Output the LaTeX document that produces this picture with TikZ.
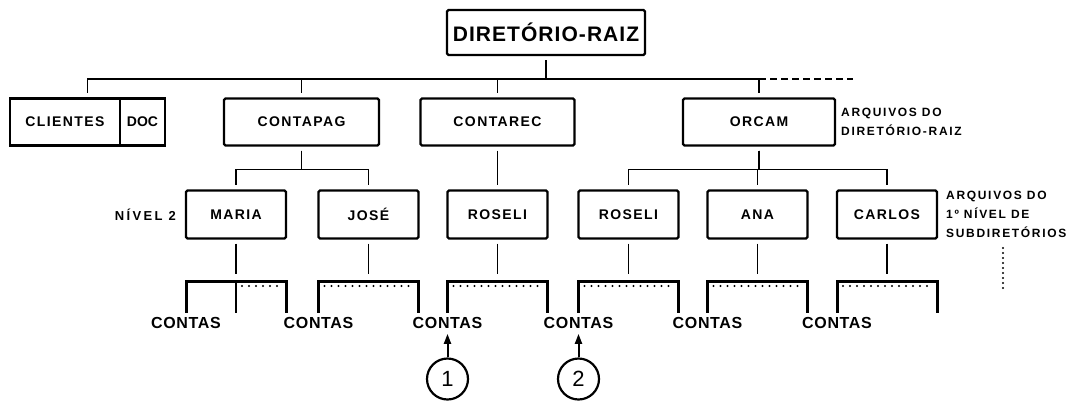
\documentclass[tikz,border=0pt]{standalone}
\usepackage{fontspec}
\setmainfont{Liberation Sans}
\newfontfamily\lettering{Liberation Sans}[LetterSpace=10]
\usepackage{tikz}
\usetikzlibrary{arrows.meta, positioning, calc}

\begin{document}
\begin{tikzpicture}[
    x=1pt, y=-1pt,
    dirbox/.style={rectangle, draw, line width=2.4pt, rounded corners=1.5pt, outer sep=0pt, inner sep=0pt, minimum width=100pt, minimum height=48pt, font=\lettering\bfseries\fontsize{14}{16}\selectfont},
    rootbox/.style={dirbox, minimum width=198pt, minimum height=45pt, font=\lettering\bfseries\fontsize{21}{24}\selectfont\addfontfeatures{LetterSpace=5}},
    note/.style={align=left, inner sep=0pt, font=\lettering\bfseries\fontsize{12}{19}\selectfont\addfontfeatures{LetterSpace=14}},
    contas/.style={inner sep=0pt, font=\lettering\bfseries\fontsize{16}{18}\selectfont\addfontfeatures{LetterSpace=4}},
    marker/.style={circle, draw, line width=2.2pt, minimum size=41pt, inner sep=0pt, font=\fontsize{22}{22}\selectfont},
    link/.style={line width=1.7pt, shorten <=5pt, shorten >=6pt},
    bracket/.style={line width=3pt},
    dotline/.style={line width=2.2pt, line cap=round, dash pattern=on 0pt off 7pt},
    pointer/.style={-{Triangle[length=10pt,width=7pt]}, line width=2pt}
]
\useasboundingbox (0,0) rectangle (1073,400);

% Diretorio-raiz
\node[rootbox] (raiz) at (546,32.5) {DIRETÓRIO-RAIZ};

% Arquivos do diretorio-raiz
\node[dirbox, rounded corners=0pt, minimum width=110pt, minimum height=47pt] (clientes) at (65,122) {CLIENTES};
\node[dirbox, rounded corners=0pt, minimum width=45pt, minimum height=47pt, anchor=west, font=\lettering\bfseries\fontsize{14}{16}\selectfont\addfontfeatures{LetterSpace=0}] (doc) at (clientes.east) {DOC};
\node[dirbox, minimum width=155pt, minimum height=47pt] (contapag) at (301.5,122) {CONTAPAG};
\node[dirbox, minimum width=154pt, minimum height=47pt] (contarec) at (497.5,122) {CONTAREC};
\node[dirbox, minimum width=152pt, minimum height=47pt] (orcam) at (759,122) {ORCAM};
\node[note, anchor=west] (notaraiz) at ([xshift=6pt]orcam.east) {ARQUIVOS DO\\DIRETÓRIO-RAIZ};

% 1o nivel de subdiretorios
\node[dirbox] (maria) at (236,214.5) {MARIA};
\node[dirbox] (jose) at (368.5,214.5) {JOSÉ};
\node[dirbox] (roseli) at (497.5,214.5) {ROSELI};
\node[dirbox] (roselib) at (628.5,214.5) {ROSELI};
\node[dirbox] (ana) at (757.5,214.5) {ANA};
\node[dirbox] (carlos) at (887,214.5) {CARLOS};
\node[note, left=10pt of maria, font=\lettering\bfseries\fontsize{13}{19}\selectfont\addfontfeatures{LetterSpace=18}] (nivel) {NÍVEL 2};
\node[note, anchor=west] (notasub) at ([xshift=9pt]carlos.east) {ARQUIVOS DO\\1º NÍVEL DE\\SUBDIRETÓRIOS};
\coordinate (maisniveis) at (1003,248);

% Ligacoes do diretorio-raiz
\draw[link] (raiz.south) -- ++(0,24) -| ($(clientes.north west)!0.5!(doc.north east)$);
\draw[link] (raiz.south) -- ++(0,24) -| (contapag.north);
\draw[link] (raiz.south) -- ++(0,24) -| (contarec.north);
\draw[link] (raiz.south) -- ++(0,24) -| (orcam.north);
\draw[line width=1.7pt, dash pattern=on 7pt off 4pt] (orcam.north |- 0,79) -- ++(94,0);

% Ligacoes do 1o nivel
\draw[link] (contapag.south) -- ++(0,24) -| (maria.north);
\draw[link] (contapag.south) -- ++(0,24) -| (jose.north);
\draw[link] (contarec.south) -- (roseli.north);
\draw[link] (orcam.south) -- ++(0,24) -| (roselib.north);
\draw[link] (orcam.south) -- ++(0,24) -| (ana.north);
\draw[link] (orcam.south) -- ++(0,24) -| (carlos.north);
\draw[dotline, dash pattern=on 0pt off 5pt] (maisniveis) -- ++(0,40);

% Arquivos do 2o nivel
\draw[link, shorten >=0pt] (maria.south) -- ++(0,35.5);
\draw[link, shorten >=0pt] (jose.south) -- ++(0,35.5);
\draw[link, shorten >=0pt] (roseli.south) -- ++(0,35.5);
\draw[link, shorten >=0pt] (roselib.south) -- ++(0,35.5);
\draw[link, shorten >=0pt] (ana.south) -- ++(0,35.5);
\draw[link, shorten >=0pt] (carlos.south) -- ++(0,35.5);

\draw[bracket] ([yshift=-74pt]maria.south west) |- ([yshift=-43pt]maria.south) -| ([yshift=-74pt]maria.south east);
\draw[bracket] ([yshift=-74pt]jose.south west) |- ([yshift=-43pt]jose.south) -| ([yshift=-74pt]jose.south east);
\draw[bracket] ([yshift=-74pt]roseli.south west) |- ([yshift=-43pt]roseli.south) -| ([yshift=-74pt]roseli.south east);
\draw[bracket] ([yshift=-74pt]roselib.south west) |- ([yshift=-43pt]roselib.south) -| ([yshift=-74pt]roselib.south east);
\draw[bracket] ([yshift=-74pt]ana.south west) |- ([yshift=-43pt]ana.south) -| ([yshift=-74pt]ana.south east);
\draw[bracket] ([yshift=-74pt]carlos.south west) |- ([yshift=-43pt]carlos.south) -| ([yshift=-74pt]carlos.south east);
\draw[line width=1.7pt] ([yshift=-43pt]maria.south) -- ++(0,31);

\draw[dotline] ([xshift=6pt,yshift=-47.5pt]maria.south) -- ([xshift=-5pt,yshift=-47.5pt]maria.south east);
\draw[dotline] ([xshift=6pt,yshift=-47.5pt]jose.south west) -- ([xshift=-5pt,yshift=-47.5pt]jose.south east);
\draw[dotline] ([xshift=6pt,yshift=-47.5pt]roseli.south west) -- ([xshift=-5pt,yshift=-47.5pt]roseli.south east);
\draw[dotline] ([xshift=6pt,yshift=-47.5pt]roselib.south west) -- ([xshift=-5pt,yshift=-47.5pt]roselib.south east);
\draw[dotline] ([xshift=6pt,yshift=-47.5pt]ana.south west) -- ([xshift=-5pt,yshift=-47.5pt]ana.south east);
\draw[dotline] ([xshift=6pt,yshift=-47.5pt]carlos.south west) -- ([xshift=-5pt,yshift=-47.5pt]carlos.south east);

\node[contas] (contasmaria) at ([yshift=-84.5pt]maria.south west) {CONTAS};
\node[contas] (contasjose) at ([yshift=-84.5pt]jose.south west) {CONTAS};
\node[contas] (contasroseli) at ([yshift=-84.5pt]roseli.south west) {CONTAS};
\node[contas] (contasroselib) at ([yshift=-84.5pt]roselib.south west) {CONTAS};
\node[contas] (contasana) at ([yshift=-84.5pt]ana.south west) {CONTAS};
\node[contas] (contascarlos) at ([yshift=-84.5pt]carlos.south west) {CONTAS};

% Arquivos citados no texto
\node[marker] (um) at (roseli.south west |- 0,379) {1};
\node[marker] (dois) at (roselib.south west |- 0,379) {2};
\draw[pointer, shorten >=5pt] (um.north) -- (contasroseli.south -| um.north);
\draw[pointer, shorten >=5pt] (dois.north) -- (contasroselib.south -| dois.north);
\end{tikzpicture}
\end{document}
